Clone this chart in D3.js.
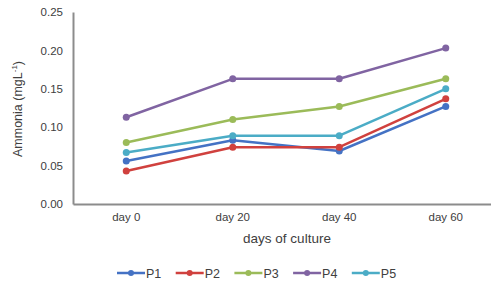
<!DOCTYPE html>
<html><head><meta charset="utf-8">
<script src="https://cdn.jsdelivr.net/npm/d3@7"></script>
<style>body{margin:0;background:#fff;} svg{display:block;font-family:"Liberation Sans",Arial,sans-serif;}</style>
</head><body>
<svg id="chart" width="491" height="282"></svg>
<script>
const categories = ["day 0", "day 20", "day 40", "day 60"];
const seriesNames = ["P1", "P2", "P3", "P4", "P5"];
const P1 = [0.056, 0.083, 0.069, 0.127];
const P2 = [0.043, 0.074, 0.074, 0.137];
const P3 = [0.080, 0.110, 0.127, 0.163];
const P4 = [0.113, 0.163, 0.163, 0.203];
const P5 = [0.067, 0.089, 0.089, 0.150];
const yTicks = [0, 0.05, 0.10, 0.15, 0.20, 0.25];
const colors = ["#4472C4", "#D0413E", "#9BBB59", "#8064A2", "#4BACC6"];

const series = [P1, P2, P3, P4, P5].map((v, i) => ({name: seriesNames[i], values: v, color: colors[i]}));

const svg = d3.select("#chart");
const mLeft = 73, mRight = 499, mTop = 12, mBottom = 204;
const x = d3.scaleBand().domain(categories).range([mLeft, mRight]);
const y = d3.scaleLinear().domain([0, 0.25]).range([mBottom, mTop]);
const cx = d => x(d) + x.bandwidth() / 2;

// axes
const yAxis = svg.append("g").attr("transform", `translate(${mLeft},0)`)
  .call(d3.axisLeft(y).tickValues(yTicks).tickFormat(d3.format(".2f")).tickSize(0).tickPadding(10));
yAxis.select(".domain").attr("stroke", "#8c8c8c").attr("stroke-width", 2);
yAxis.selectAll("text").attr("font-size", 11.5).attr("fill", "#404040").attr("font-family", "Liberation Sans, Arial, sans-serif");

const xAxis = svg.append("g").attr("transform", `translate(0,${mBottom})`)
  .call(d3.axisBottom(x).tickSize(0).tickPadding(9));
xAxis.select(".domain").attr("stroke", "#8c8c8c").attr("stroke-width", 2);
xAxis.selectAll("text").attr("font-size", 11.5).attr("fill", "#404040").attr("font-family", "Liberation Sans, Arial, sans-serif");

// titles
svg.append("text").attr("x", 287).attr("y", 243).attr("text-anchor", "middle")
  .attr("font-size", 13.5).attr("fill", "#404040").text("days of culture");
const yt = svg.append("text").attr("transform", "translate(22,109) rotate(-90)").attr("text-anchor", "middle")
  .attr("font-size", 12.5).attr("fill", "#404040");
yt.append("tspan").text("Ammonia (mgL");
yt.append("tspan").attr("font-size", 8).attr("dy", -5).text("-1");
yt.append("tspan").attr("dy", 5).text(")");

// lines
const line = d3.line().x((d, i) => cx(categories[i])).y(d => y(d));
series.forEach(s => {
  svg.append("path").datum(s.values).attr("d", line).attr("fill", "none")
    .attr("stroke", s.color).attr("stroke-width", 2.5).attr("stroke-linejoin", "round");
  svg.selectAll(null).data(s.values).enter().append("circle")
    .attr("cx", (d, i) => cx(categories[i])).attr("cy", d => y(d)).attr("r", 3.5).attr("fill", s.color);
});

// legend
const leg = svg.append("g");
series.forEach((s, i) => {
  const lx = 117 + i * 58.7, ly = 273;
  leg.append("line").attr("x1", lx).attr("x2", lx + 28).attr("y1", ly).attr("y2", ly)
    .attr("stroke", s.color).attr("stroke-width", 2.5);
  leg.append("circle").attr("cx", lx + 14).attr("cy", ly).attr("r", 3).attr("fill", s.color);
  leg.append("text").attr("x", lx + 29).attr("y", ly + 4.5).attr("font-size", 12.5).attr("fill", "#404040").text(s.name);
});
</script>
</body></html>
